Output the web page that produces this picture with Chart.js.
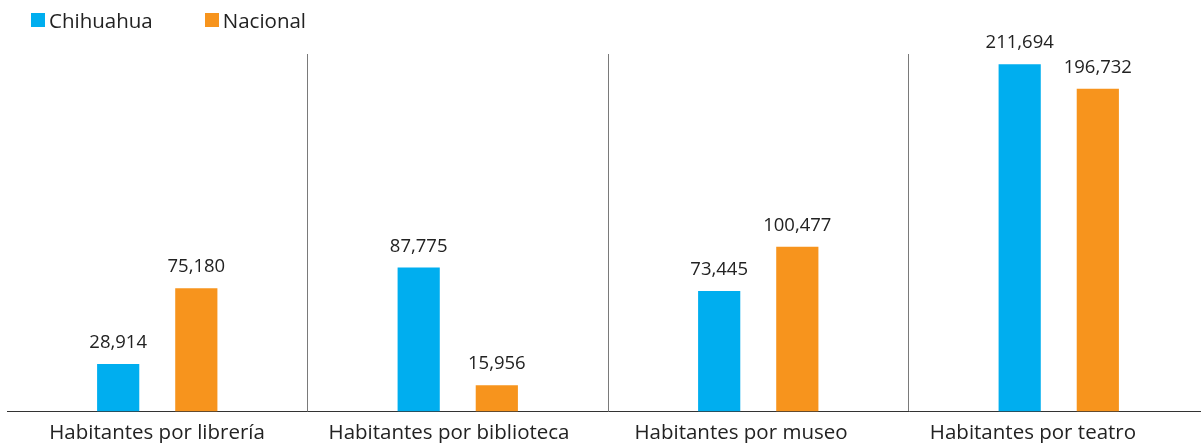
<!DOCTYPE html>
<html>
<head>
<meta charset="utf-8">
<script src="https://cdn.jsdelivr.net/npm/chart.js@4"></script>
<style>
  body { margin: 0; overflow: hidden; background: #fff; font-family: "Open Sans", sans-serif; }
  #wrap { position: relative; width: 1216px; height: 443px; overflow: hidden; }
  #legend { position: absolute; left: 31px; top: 6px; display: flex; font-size: 20.5px; color: #222; }
  #legend span.item { display: flex; align-items: center; margin-right: 52px; }
  #legend span.box { width: 14px; height: 14px; display: inline-block; margin-right: 4px; }
</style>
</head>
<body>
<div id="wrap">
  <div id="legend"></div>
  <canvas id="chart" width="1216" height="454"></canvas>
</div>
<script>
const categories = ['Habitantes por librería', 'Habitantes por biblioteca', 'Habitantes por museo', 'Habitantes por teatro'];
const chihuahua = [28914, 87775, 73445, 211694];
const nacional = [75180, 15956, 100477, 196732];
const seriesNames = ['Chihuahua', 'Nacional'];
const seriesColors = ['#00aeef', '#f7941d'];

document.addEventListener('DOMContentLoaded', function() {
    const valueLabels = {
        id: 'valueLabels',
        afterDatasetsDraw(chart) {
            const ctx = chart.ctx;
            ctx.save();
            ctx.font = '18.5px "Open Sans"';
            ctx.fillStyle = '#222';
            ctx.textAlign = 'center';
            ctx.textBaseline = 'bottom';
            chart.data.datasets.forEach(function(ds, i) {
                chart.getDatasetMeta(i).data.forEach(function(bar, j) {
                    ctx.fillText(ds.data[j].toLocaleString('en-US'), bar.x, bar.y - 12);
                });
            });
            ctx.restore();
        }
    };

    const ctx = document.getElementById('chart').getContext('2d');
    const chart = new Chart(ctx, {
        type: 'bar',
        data: {
            labels: categories,
            datasets: [{
                label: seriesNames[0],
                data: chihuahua,
                backgroundColor: seriesColors[0],
                categoryPercentage: 0.52,
                barPercentage: 0.54
            }, {
                label: seriesNames[1],
                data: nacional,
                backgroundColor: seriesColors[1],
                categoryPercentage: 0.52,
                barPercentage: 0.54
            }]
        },
        options: {
            responsive: false,
            animation: false,
            layout: { padding: { left: 7, right: 7, top: 54, bottom: 0 } },
            plugins: {
                legend: { display: false },
                tooltip: { enabled: false }
            },
            scales: {
                x: {
                    grid: {
                        offset: true,
                        drawTicks: false,
                        color: function(c) {
                            return (c.index === 0 || c.index >= categories.length) ? 'rgba(0,0,0,0)' : '#7a7a7a';
                        },
                        lineWidth: 1
                    },
                    border: { color: '#333', width: 1 },
                    ticks: { display: false }
                },
                // label axis: the category names sit a little tighter than the bars
                xLabels: {
                    type: 'linear',
                    position: 'bottom',
                    offset: false,
                    bounds: 'data',
                    min: -0.514,
                    max: 3.603,
                    grid: { display: false, drawTicks: false, offset: false },
                    border: { display: false },
                    afterBuildTicks: function(axis) {
                        axis.ticks = categories.map(function(c, i) { return { value: i }; });
                    },
                    ticks: {
                        autoSkip: false,
                        maxRotation: 0,
                        padding: 9,
                        color: '#222',
                        font: { family: 'Open Sans', size: 20.5 },
                        callback: function(v) {
                            return categories[v];
                        }
                    }
                },
                y: {
                    display: false,
                    min: 0,
                    max: 218000
                }
            }
        },
        plugins: [valueLabels]
    });

    const legend = document.getElementById('legend');
    chart.data.datasets.forEach(function(ds) {
        const item = document.createElement('span');
        item.className = 'item';
        const box = document.createElement('span');
        box.className = 'box';
        box.style.background = ds.backgroundColor;
        item.appendChild(box);
        item.appendChild(document.createTextNode(ds.label));
        legend.appendChild(item);
    });
});
</script>
</body>
</html>
